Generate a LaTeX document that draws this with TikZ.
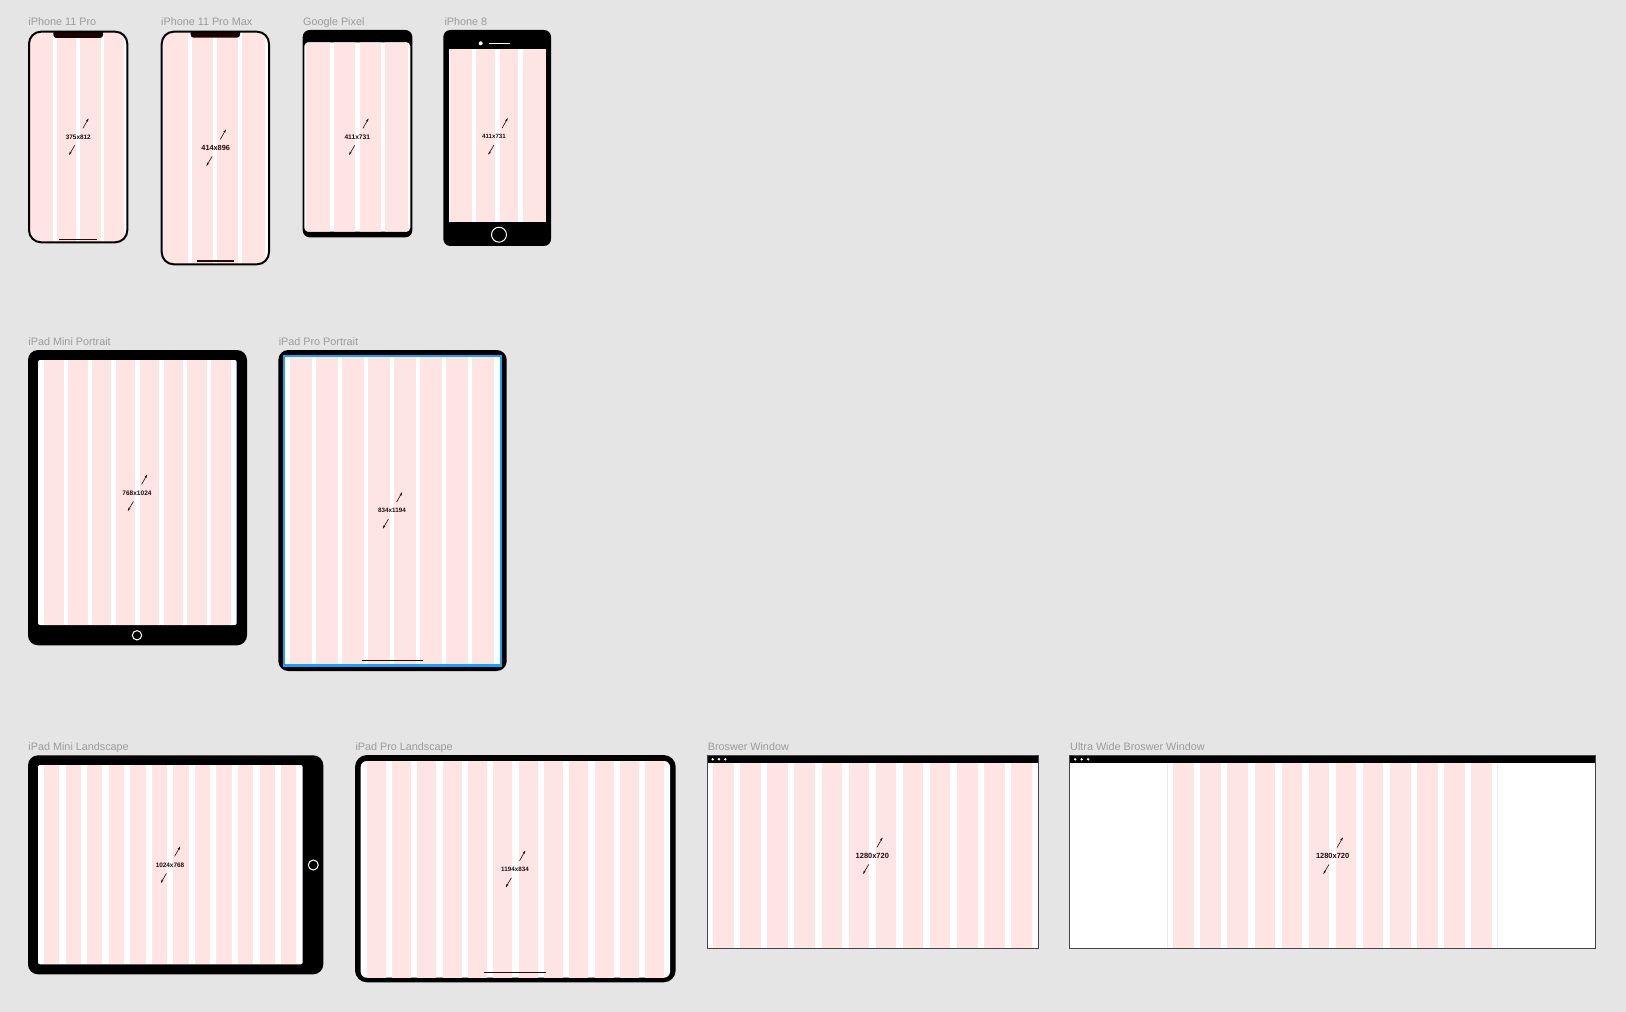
\documentclass[tikz,border=0pt]{standalone}
\usepackage{fontspec}
\setmainfont{Liberation Sans}
\usetikzlibrary{calc}

\definecolor{canvasgray}{RGB}{229,229,229}
\definecolor{gridpink}{RGB}{255,228,228}
\definecolor{labelgray}{RGB}{155,155,155}
\definecolor{inkdark}{RGB}{36,12,12}
\definecolor{notchdark}{RGB}{28,2,2}
\definecolor{selblue}{RGB}{24,160,251}
\definecolor{framegray}{RGB}{70,70,70}
\definecolor{containergray}{RGB}{236,236,236}

\tikzset{every picture/.style={line width=0.75pt}}
\tikzset{
  framelabel/.style={anchor=base west, inner sep=0pt, text=labelgray, font=\fontsize{8.1}{9.7}\selectfont},
  dimtext/.style={inner sep=0.75pt, text=inkdark, font=\bfseries\fontsize{#1}{#1}\selectfont},
  dimline/.style={inkdark, line width=0.45pt},
  homebar/.style={inkdark, line width=1pt},
}

% size tag: name, x, y, text, font size, arrow x shift
\newcommand{\sizetag}[6]{%
  \node [dimtext=#5] (#1) at (#2,#3) {#4};
  \coordinate (#1up) at ($(#1)+(#6+10,-18.2)$);
  \coordinate (#1dn) at ($(#1)+(#6-9,17.6)$);
  \draw [dimline] ($(#1)+(#6+4.6,-8.6)$) -- (#1up);
  \draw [shift={(#1up)}, rotate = 119.4] [fill=inkdark] [line width=0.08] [draw opacity=0] (3,-1.1) -- (0,0) -- (3,1.1) -- (2.4,0) -- cycle ;
  \draw [dimline] ($(#1)+(#6-3.6,8.4)$) -- (#1dn);
  \draw [shift={(#1dn)}, rotate = 300.4] [fill=inkdark] [line width=0.08] [draw opacity=0] (3,-1.1) -- (0,0) -- (3,1.1) -- (2.4,0) -- cycle ;
}

\begin{document}
\begin{tikzpicture}[x=0.75pt,y=0.75pt,yscale=-1,xscale=1]
\useasboundingbox (0,0) rectangle (1626,1012);
%Shape: Rectangle (canvas)
\fill [canvasgray] (0,0) rectangle (1626,1012);

%Shape: Rounded Rect [iPhone 11 Pro]
\fill [white, rounded corners=9pt] (29,31.7) rectangle (127.3,242.3);
\begin{scope}
  \clip [rounded corners=9pt] (29,31.7) rectangle (127.3,242.3);
  \foreach \a/\b in {30/53.3, 57/76, 80/100.5, 103.7/123.8}
    \fill [gridpink] (\a,30) rectangle (\b,244);
  \fill [notchdark, rounded corners=2.25pt] (53.3,26) rectangle (103,38);
\end{scope}
\draw [homebar] (59.3,239.3) -- (96.7,239.3);
\draw [line width=1.5pt, rounded corners=9pt] (29,31.7) rectangle (127.3,242.3);

%Shape: Rounded Rect [iPhone 11 Pro Max]
\fill [white, rounded corners=9pt] (161.7,31.7) rectangle (269,264.3);
\begin{scope}
  \clip [rounded corners=9pt] (161.7,31.7) rectangle (269,264.3);
  \foreach \a/\b in {162.7/187.7, 191.7/212.7, 217.3/238.3, 242.3/265}
    \fill [gridpink] (\a,30) rectangle (\b,266);
  \fill [notchdark, rounded corners=2.25pt] (190.7,26) rectangle (240,37.7);
\end{scope}
\draw [homebar] (196.7,261) -- (234,261);
\draw [line width=1.5pt, rounded corners=9pt] (161.7,31.7) rectangle (269,264.3);

%Shape: Rounded Rect [Google Pixel]
\fill [black, rounded corners=5.25pt] (302.7,30) rectangle (412.3,237.3);
\fill [white, rounded corners=3pt] (304.3,42.3) rectangle (410.3,231.7);
\begin{scope}
  \clip [rounded corners=3pt] (304.3,42.3) rectangle (410.3,231.7);
  \foreach \a/\b in {306/330, 334/355, 360/381, 385.3/408.3}
    \fill [gridpink] (\a,42) rectangle (\b,232);
\end{scope}

%Shape: Rounded Rect [iPhone 8]
\fill [black, rounded corners=5.25pt] (443.3,30) rectangle (551,246);
\fill [white] (449,49.3) rectangle (545.7,222.3);
\foreach \a/\b in {450/472.3, 476/495, 500/518.3, 522.7/545.7}
  \fill [gridpink] (\a,49.3) rectangle (\b,222.3);
\fill [white] (480.7,43.3) circle (1.5pt);
\draw [white, line width=0.9pt] (489.3,43.3) -- (510,43.3);
\draw [white, line width=0.75pt] (499,234.7) circle (5.6pt);

%Shape: Rounded Rect [iPad Mini Portrait]
\fill [black, rounded corners=7.5pt] (28,350) rectangle (247,645.3);
\fill [white, rounded corners=1.5pt] (38,360) rectangle (236.7,625);
\foreach \i in {0,...,7}
  \fill [gridpink] ({44+23.9*\i},360) rectangle ({63.6+23.9*\i},625);
\draw [white, line width=0.75pt] (137,635.3) circle (3.5pt);

%Shape: Rounded Rect [iPad Pro Portrait]
\fill [black, rounded corners=7.5pt] (278.3,350) rectangle (506.7,671);
\fill [white, rounded corners=2.25pt] (284,356.3) rectangle (501,665);
\foreach \i in {0,...,7}
  \fill [gridpink] ({290+26*\i},356) rectangle ({312+26*\i},665);
\draw [homebar] (361.7,660.7) -- (422.7,660.7);
\draw [selblue, line width=1.7pt] (283.8,355.8) rectangle (501.2,665.5);

%Shape: Rounded Rect [iPad Mini Landscape]
\fill [black, rounded corners=7.5pt] (28,755.3) rectangle (323.3,974.3);
\fill [white, rounded corners=1.5pt] (38,765) rectangle (302.7,964.3);
\foreach \i in {0,...,11}
  \fill [gridpink] ({44+21.55*\i},765) rectangle ({59.3+21.55*\i},964.3);
\draw [white, line width=0.75pt] (313.3,865) circle (3.75pt);

%Shape: Rounded Rect [iPad Pro Landscape]
\fill [black, rounded corners=9pt] (355,755) rectangle (675.7,982.3);
\fill [white, rounded corners=4.5pt] (360.7,761) rectangle (670,977.7);
\foreach \i in {0,...,11}
  \fill [gridpink] ({366.7+25.33*\i},761) rectangle ({385.7+25.33*\i},977.7);
\draw [homebar] (484.3,972.7) -- (546,972.7);

%Shape: Rectangle [Broswer Window]
\fill [white] (707.3,755.7) rectangle (1038.3,948.3);
\foreach \i in {0,...,11}
  \fill [gridpink] ({713.3+27.06*\i},763) rectangle ({734+27.06*\i},948.3);
\fill [black] (707.3,755.7) rectangle (1038.3,763);
\foreach \x in {712.7,719,725.3}
  \fill [white] (\x,759.3) circle (1pt);
\draw [framegray] (707.3,755.7) rectangle (1038.3,948.3);

%Shape: Rectangle [Ultra Wide Broswer Window]
\fill [white] (1069.7,755.7) rectangle (1595.4,948.3);
\draw [containergray] (1167.6,763) -- (1167.6,948.3);
\draw [containergray] (1497.9,763) -- (1497.9,948.3);
\foreach \i in {0,...,11}
  \fill [gridpink] ({1173.3+27.06*\i},763) rectangle ({1194+27.06*\i},948.3);
\fill [black] (1069.7,755.7) rectangle (1595.4,763);
\foreach \x in {1075.2,1081.7,1088.2}
  \fill [white] (\x,759.3) circle (1pt);
\draw [framegray] (1069.7,755.7) rectangle (1595.4,948.3);

% Text Node
\node [framelabel] (t11pro) at (28,26) {iPhone 11 Pro};
% Text Node
\node [framelabel] (t11max) at (160.7,26) {iPhone 11 Pro Max};
% Text Node
\node [framelabel] (tpixel) at (302.7,26) {Google Pixel};
% Text Node
\node [framelabel] (t8) at (444,26) {iPhone 8};
% Text Node
\node [framelabel] (tminiP) at (28,345) {iPad Mini Portrait};
% Text Node
\node [framelabel] (tproP) at (278.3,345) {iPad Pro Portrait};
% Text Node
\node [framelabel] (tminiL) at (28,750) {iPad Mini Landscape};
% Text Node
\node [framelabel] (tproL) at (355,750) {iPad Pro Landscape};
% Text Node
\node [framelabel] (tbrowser) at (707.3,750) {Broswer Window};
% Text Node
\node [framelabel] (tultra) at (1069.7,750) {Ultra Wide Broswer Window};

% Size tags
\sizetag{s11pro}{78.3}{137}{375x812}{4.8}{0}
\sizetag{s11max}{215.7}{148}{414x896}{5.5}{0}
\sizetag{spixel}{357.3}{137}{411x731}{5}{1}
\sizetag{seight}{494}{136.7}{411x731}{4.6}{3.5}
\sizetag{sminiP}{137}{493}{768x1024}{4.9}{0}
\sizetag{sproP}{392}{510.7}{834x1194}{4.7}{0}
\sizetag{sminiL}{170}{865}{1024x768}{4.8}{0}
\sizetag{sproL}{515}{869.3}{1194x834}{4.7}{0}
\sizetag{sbrowser}{872.3}{856}{1280x720}{5.6}{0}
\sizetag{sultra}{1332.6}{856}{1280x720}{5.6}{0}

\end{tikzpicture}
\end{document}
